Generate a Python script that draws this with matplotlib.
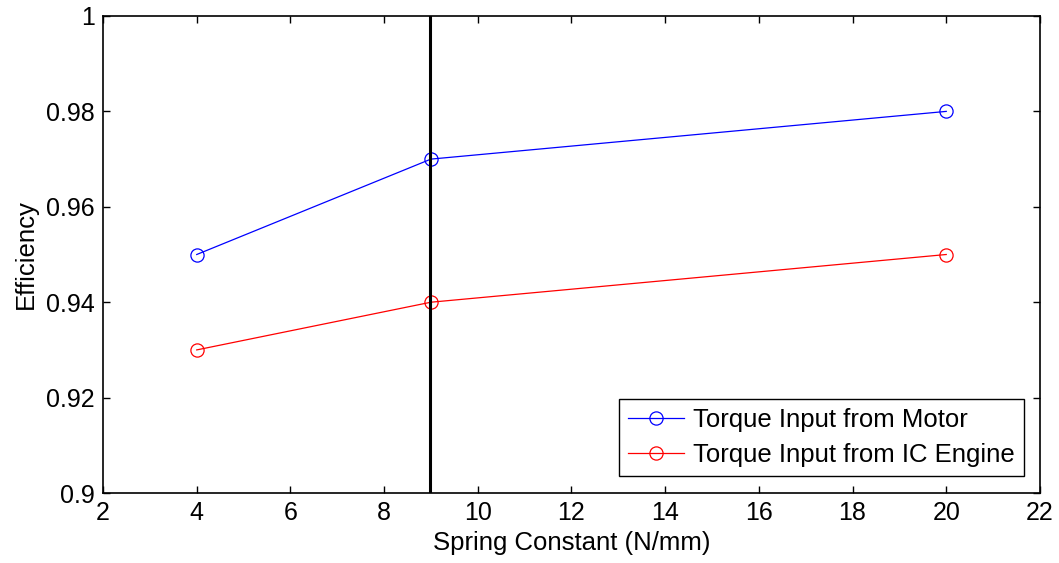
import matplotlib
matplotlib.use("Agg")
import matplotlib.pyplot as plt

spring = [4, 9, 20]
eff_motor = [0.95, 0.97, 0.98]
eff_ic = [0.93, 0.94, 0.95]
vline_x = 8.97
xticks = [2, 4, 6, 8, 10, 12, 14, 16, 18, 20, 22]
yticks = [0.9, 0.92, 0.94, 0.96, 0.98, 1.0]
ytick_labels = ["0.9", "0.92", "0.94", "0.96", "0.98", "1"]

plt.rcParams['font.family'] = ['Liberation Sans', 'DejaVu Sans']

fig = plt.figure(figsize=(10.59, 5.63), dpi=100)
ax = fig.add_axes([0.0973, 0.1243, 0.8847, 0.8473])

ax.plot(spring, eff_motor, color='#0000ff', lw=0.9, marker='o', ms=9.5,
        mfc='none', mec='#0000ff', mew=0.9, label='Torque Input from Motor')
ax.plot(spring, eff_ic, color='#ff0000', lw=0.9, marker='o', ms=9.5,
        mfc='none', mec='#ff0000', mew=0.9, label='Torque Input from IC Engine')
ax.axvline(vline_x, color='black', lw=2.2)

ax.set_xlim(2, 22)
ax.set_ylim(0.9, 1.0)
ax.set_xticks(xticks)
ax.set_yticks(yticks)
ax.set_yticklabels(ytick_labels)
ax.tick_params(direction='in', length=5, width=1, top=True, right=True,
               labelsize=18, pad=6, labeltop=False, labelright=False)
for s in ax.spines.values():
    s.set_linewidth(1.2)
ax.set_xlabel('Spring Constant (N/mm)', fontsize=18.5, labelpad=4)
ax.set_ylabel('Efficiency', fontsize=18.5, labelpad=6)

leg = ax.legend(loc='lower right', bbox_to_anchor=(1024 / 1059, (563 - 476) / 563),
                bbox_transform=fig.transFigure, borderaxespad=0,
                fontsize=18.5, frameon=True, fancybox=False,
                edgecolor='black', framealpha=1,
                handlelength=2.2, handletextpad=0.35, borderpad=0.35,
                labelspacing=0.42)
leg.get_frame().set_linewidth(1.0)

fig.savefig('out.png', dpi=100)
